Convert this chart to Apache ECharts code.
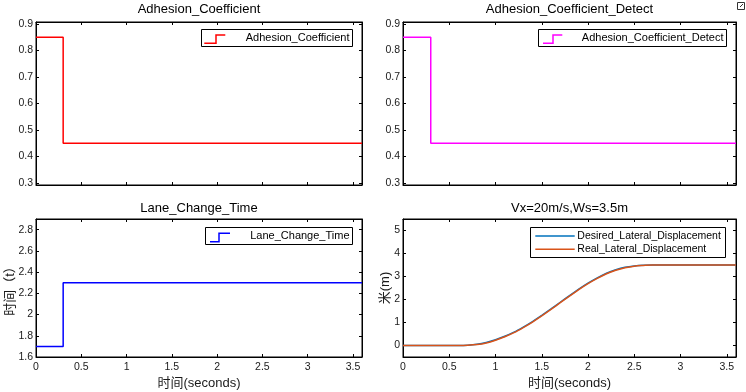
<!DOCTYPE html>
<html>
<head>
<meta charset="utf-8">
<script src="https://cdn.jsdelivr.net/npm/echarts@6/dist/echarts.min.js"></script>
<style>
html,body{margin:0;padding:0;background:#fff;}
#chart{width:746px;height:392px;}
</style>
</head>
<body>
<div id="chart"></div>
<script>
// ---- data ----
const stepTimes = [0, 0.3, 3.6];
const adhesionCoefficient = [0.85, 0.45, 0.45];
const adhesionCoefficientDetect = [0.85, 0.45, 0.45];
const laneChangeTime = [1.7, 2.3, 2.3];

const lateralTime = [0,0.1,0.2,0.3,0.4,0.5,0.6,0.7,0.8,0.9,1.0,1.1,1.2,1.3,1.4,1.5,1.6,1.7,1.8,1.9,2.0,2.1,2.2,2.3,2.4,2.5,2.6,2.7,2.8,2.9,3.0,3.1,3.2,3.3,3.4,3.5,3.6];
const desiredLateral = [0,0,0,0,0,0,0,0.01,0.05,0.13,0.25,0.40,0.58,0.80,1.04,1.31,1.59,1.88,2.17,2.45,2.71,2.94,3.14,3.29,3.40,3.46,3.49,3.50,3.50,3.50,3.50,3.50,3.50,3.50,3.50,3.50,3.50];
const realLateral = [0,0,0,0,0,0,0,0.01,0.04,0.11,0.23,0.38,0.56,0.78,1.02,1.29,1.57,1.86,2.15,2.43,2.69,2.92,3.12,3.27,3.38,3.45,3.48,3.50,3.50,3.50,3.50,3.50,3.50,3.50,3.50,3.50,3.50];

const xTicks = [0,0.5,1,1.5,2,2.5,3,3.5];
const adhesionTicks = [0.3,0.4,0.5,0.6,0.7,0.8,0.9];
const laneTicks = [1.6,1.8,2,2.2,2.4,2.6,2.8];
const lateralTicks = [0,1,2,3,4,5];

const titles = ['Adhesion_Coefficient','Adhesion_Coefficient_Detect','Lane_Change_Time','Vx=20m/s,Ws=3.5m'];
const xName = '时间(seconds)';
const yNameLane = '时间（t）';
const yNameLateral = '米(m)';

// ---- layout ----
const FONT = '"Liberation Sans", Arial, "Noto Sans CJK SC", sans-serif';
const TXT = '#1a1a1a';
const grids = [
  {left:36, top:22, width:326, height:163},
  {left:403, top:22, width:333, height:163},
  {left:36, top:219, width:326, height:138},
  {left:403, top:219, width:333, height:138}
];
const yRanges = [[0.2925,0.9075],[0.2925,0.9075],[1.6,2.9],[-0.5,5.5]];
const yTickSets = [adhesionTicks, adhesionTicks, laneTicks, lateralTicks];

const xAxes = [], yAxes = [];
grids.forEach((g, i) => {
  const bottomRow = i >= 2;
  xAxes.push({
    type:'value', gridIndex:i, min:0, max:3.6, position:'bottom',
    name: bottomRow ? xName : '', nameLocation:'middle', nameGap:20, nameMoveOverlap:false,
    nameTextStyle:{fontFamily:FONT, fontSize:13, color:TXT},
    axisLine:{show:true, onZero:false, lineStyle:{color:'#000', width:1}},
    axisTick:{show:true, inside:true, length:3, customValues:xTicks, lineStyle:{color:'#000'}},
    axisLabel:{show:bottomRow, customValues:xTicks, margin:5, fontFamily:FONT, fontSize:10.5, color:TXT},
    splitLine:{show:false}
  });
  xAxes.push({
    type:'value', gridIndex:i, min:0, max:3.6, position:'top',
    axisLine:{show:true, onZero:false, lineStyle:{color:'#000', width:1}},
    axisTick:{show:true, inside:true, length:3, customValues:xTicks, lineStyle:{color:'#000'}},
    axisLabel:{show:false}, splitLine:{show:false}
  });
  let yName = '';
  if (i === 2) yName = yNameLane;
  if (i === 3) yName = yNameLateral;
  yAxes.push({
    type:'value', gridIndex:i, min:yRanges[i][0], max:yRanges[i][1], position:'left',
    name: yName, nameLocation:'middle', nameGap: i===2 ? 19 : 11, nameMoveOverlap:false,
    nameTextStyle:{fontFamily:FONT, fontSize:13, color:TXT},
    axisLine:{show:true, onZero:false, lineStyle:{color:'#000', width:1}},
    axisTick:{show:true, inside:true, length:3, customValues:yTickSets[i], lineStyle:{color:'#000'}},
    axisLabel:{show:true, customValues:yTickSets[i], margin:3, fontFamily:FONT, fontSize:10.5, color:TXT},
    splitLine:{show:false}
  });
  yAxes.push({
    type:'value', gridIndex:i, min:yRanges[i][0], max:yRanges[i][1], position:'right',
    axisLine:{show:true, onZero:false, lineStyle:{color:'#000', width:1}},
    axisTick:{show:true, inside:true, length:3, customValues:yTickSets[i], lineStyle:{color:'#000'}},
    axisLabel:{show:false}, splitLine:{show:false}
  });
});

function zipXY(xs, ys){ return xs.map((x,k)=>[x, ys[k]]); }

const series = [
  {name:'Adhesion_Coefficient', type:'line', step:'end', xAxisIndex:0, yAxisIndex:0,
   data:zipXY(stepTimes, adhesionCoefficient), showSymbol:false, lineStyle:{color:'#ff0000', width:1.5}},
  {name:'Adhesion_Coefficient_Detect', type:'line', step:'end', xAxisIndex:2, yAxisIndex:2,
   data:zipXY(stepTimes, adhesionCoefficientDetect), showSymbol:false, lineStyle:{color:'#ff00ff', width:1.5}},
  {name:'Lane_Change_Time', type:'line', step:'end', xAxisIndex:4, yAxisIndex:4,
   data:zipXY(stepTimes, laneChangeTime), showSymbol:false, lineStyle:{color:'#0000ff', width:1.5}},
  {name:'Desired_Lateral_Displacement', type:'line', smooth:0.3, xAxisIndex:6, yAxisIndex:6,
   data:zipXY(lateralTime, desiredLateral), showSymbol:false, lineStyle:{color:'#0072BD', width:1.5}},
  {name:'Real_Lateral_Displacement', type:'line', smooth:0.3, xAxisIndex:6, yAxisIndex:6,
   data:zipXY(lateralTime, realLateral), showSymbol:false, lineStyle:{color:'#D95319', width:1.5}}
];

const titleOpts = grids.map((g, i) => ({
  text: titles[i], left: g.left + g.width/2, top: i < 2 ? 3 : 202, textAlign:'center', padding:0,
  textStyle:{fontFamily:FONT, fontSize:13, fontWeight:'normal', color:'#000'}
}));

// ---- legends drawn as graphics ----
const LFONT = '11px ' + FONT;
const LFONT2 = '10.5px ' + FONT;
function stepLegend(box, lowY, highY, x0, xs, x1, color, label){
  return {
    type:'group', children:[
      {type:'rect', shape:{x:box[0], y:box[1], width:box[2]-box[0], height:box[3]-box[1]},
       style:{fill:'#fff', stroke:'#000', lineWidth:1}, z:10},
      {type:'polyline', shape:{points:[[x0,lowY],[xs,lowY],[xs,highY],[x1,highY]]},
       style:{stroke:color, lineWidth:1.5, fill:null}, z:11},
      {type:'text', x:box[2]-3, y:(box[1]+box[3])/2,
       style:{text:label, fill:'#000', font:LFONT, align:'right', verticalAlign:'middle'}, z:11}
    ]
  };
}
const graphic = [
  stepLegend([201.5,29.5,352.5,46.5], 43.3, 35, 204.3, 216, 225.3, '#ff0000', 'Adhesion_Coefficient'),
  stepLegend([538.5,29.5,726.5,46.5], 43.3, 35, 543, 553, 562.3, '#ff00ff', 'Adhesion_Coefficient_Detect'),
  stepLegend([205.5,227.5,352.5,244.5], 241.7, 233.3, 210, 219, 230, '#0000ff', 'Lane_Change_Time'),
  {type:'group', children:[
    {type:'rect', shape:{x:530.5, y:227.5, width:195, height:30}, style:{fill:'#fff', stroke:'#000', lineWidth:1}, z:10},
    {type:'line', shape:{x1:535.3, y1:236, x2:574.7, y2:236}, style:{stroke:'#0072BD', lineWidth:1.5}, z:11},
    {type:'line', shape:{x1:535.3, y1:249.3, x2:574.7, y2:249.3}, style:{stroke:'#D95319', lineWidth:1.5}, z:11},
    {type:'text', x:577.3, y:236, style:{text:'Desired_Lateral_Displacement', fill:'#000', font:LFONT2, align:'left', verticalAlign:'middle'}, z:11},
    {type:'text', x:577.3, y:249.3, style:{text:'Real_Lateral_Displacement', fill:'#000', font:LFONT2, align:'left', verticalAlign:'middle'}, z:11}
  ]},
  {type:'rect', shape:{x:737.5, y:2.5, width:7, height:7}, style:{fill:'#fff', stroke:'#333', lineWidth:1}, z:10},
  {type:'polyline', shape:{points:[[740,7],[743,4]]}, style:{stroke:'#333', lineWidth:1, fill:null}, z:11}
];

const chart = echarts.init(document.getElementById('chart'), null, {renderer:'canvas'});
chart.setOption({
  animation:false,
  backgroundColor:'#fff',
  title: titleOpts,
  grid: grids.map(g => Object.assign({show:true, borderColor:'#000', borderWidth:1, backgroundColor:'#fff', containLabel:false}, g)),
  xAxis: xAxes,
  yAxis: yAxes,
  series: series,
  graphic: graphic
});
</script>
</body>
</html>
